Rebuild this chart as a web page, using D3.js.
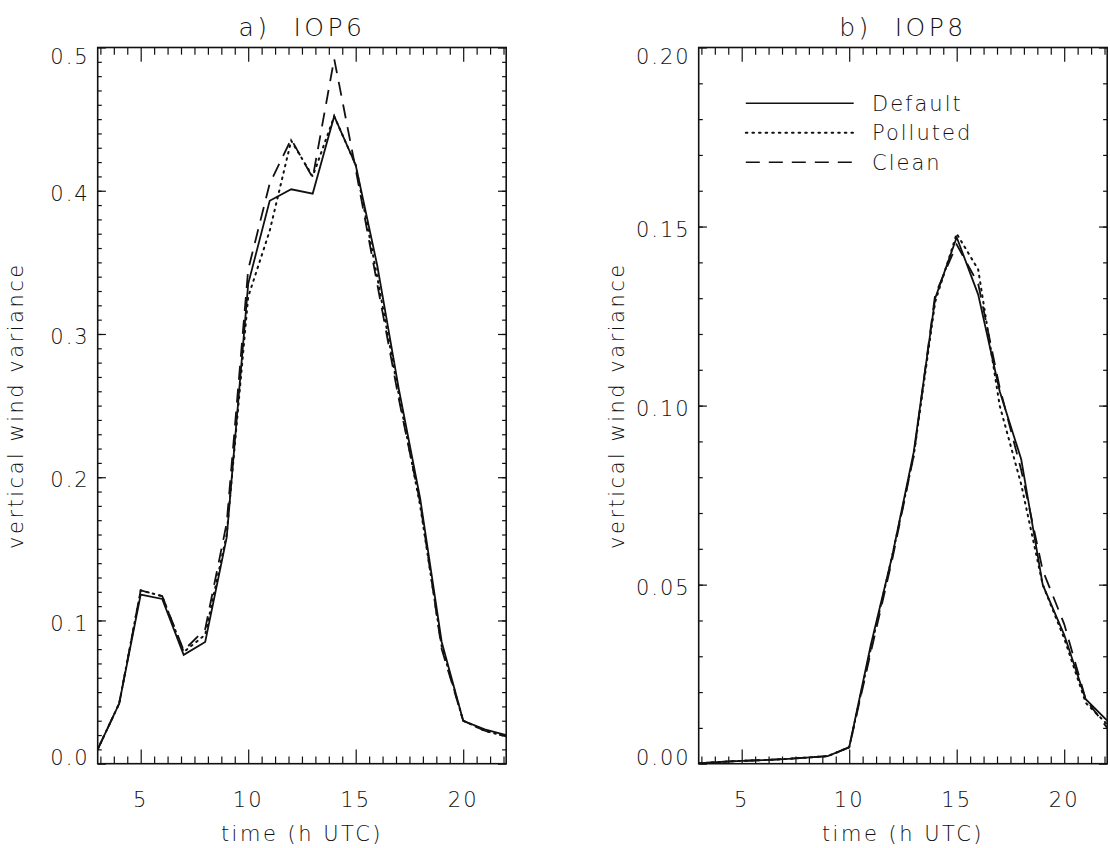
<!DOCTYPE html>
<html><head><meta charset="utf-8">
<script src="https://cdn.jsdelivr.net/npm/d3@7"></script>
<style>
body{margin:0;background:#fff;}
text{font-family:"DejaVu Sans",sans-serif;font-weight:200;fill:#111;}
</style></head>
<body><svg id="c" width="1110" height="848"></svg>
<script>
const hours = [3,4,5,6,7,8,9,10,11,12,13,14,15,16,17,18,19,20,21,22];
const iop6Default  = [0.010,0.042,0.118,0.115,0.076,0.085,0.158,0.335,0.393,0.401,0.398,0.452,0.418,0.348,0.262,0.185,0.085,0.030,0.024,0.020];
const iop6Polluted = [0.010,0.042,0.121,0.117,0.078,0.090,0.160,0.326,0.372,0.435,0.410,0.452,0.418,0.340,0.258,0.180,0.082,0.030,0.023,0.019];
const iop6Clean    = [0.010,0.042,0.121,0.117,0.079,0.094,0.168,0.345,0.405,0.436,0.409,0.492,0.415,0.335,0.255,0.182,0.080,0.030,0.023,0.019];
const iop8Default  = [0.0001,0.0005,0.0008,0.0010,0.0013,0.0017,0.0021,0.0046,0.033,0.058,0.087,0.130,0.147,0.131,0.104,0.085,0.050,0.036,0.018,0.012];
const iop8Polluted = [0.0001,0.0005,0.0008,0.0010,0.0013,0.0017,0.0021,0.0046,0.032,0.058,0.086,0.129,0.148,0.138,0.100,0.078,0.050,0.035,0.017,0.011];
const iop8Clean    = [0.0001,0.0005,0.0008,0.0010,0.0013,0.0017,0.0021,0.0046,0.031,0.057,0.086,0.131,0.145,0.134,0.105,0.082,0.054,0.039,0.018,0.010];
const seriesNames = ["Default","Polluted","Clean"];
const xMajorTicks = [5,10,15,20];
const panelTitles = ["a) IOP6","b) IOP8"];
const yTickLabels6 = ["0.0","0.1","0.2","0.3","0.4","0.5"];
const yTickLabels8 = ["0.00","0.05","0.10","0.15","0.20"];

const dashes = {Default:null, Polluted:"1.6,5", Clean:"14,9"};
const svg = d3.select("#c");
const yTop = 47.5, yBot = 763.7;

const panels = [
  {x0:97.7, x1:506.2, title:panelTitles[0], ymax:0.5, labels:yTickLabels6,
   data:{Default:iop6Default, Polluted:iop6Polluted, Clean:iop6Clean}},
  {x0:698.7, x1:1107.2, title:panelTitles[1], ymax:0.2, labels:yTickLabels8,
   data:{Default:iop8Default, Polluted:iop8Polluted, Clean:iop8Clean}}
];

panels.forEach((p,pi)=>{
  const x = d3.scaleLinear().domain([3,22]).range([p.x0,p.x1]);
  const y = d3.scaleLinear().domain([0,p.ymax]).range([yBot,yTop]);
  const g = svg.append("g");
  const xMinor = d3.range(-3,28).map(k=>5+k*0.625).filter(v=>v>3&&v<22&&!xMajorTicks.includes(v));
  const yMaj = p.labels.map(Number);
  const yMinor = d3.range(0, p.ymax/0.01+0.5).map(k=>k*0.01).filter(v=>v>0.0001&&v<p.ymax-0.0001);

  const tk = (axis,vals,len)=>{ const a=g.append("g"); a.call(axis.tickValues(vals).tickSize(len).tickFormat("")); a.select(".domain").remove(); a.selectAll("line").attr("stroke","#111").attr("stroke-width",1.2); return a;};
  tk(d3.axisBottom(x),xMajorTicks,-14.3).attr("transform",`translate(0,${yBot})`);
  tk(d3.axisBottom(x),xMinor,-7.2).attr("transform",`translate(0,${yBot})`);
  tk(d3.axisTop(x),xMajorTicks,-14.3).attr("transform",`translate(0,${yTop})`);
  tk(d3.axisTop(x),xMinor,-7.2).attr("transform",`translate(0,${yTop})`);
  tk(d3.axisLeft(y),yMaj,-8.2).attr("transform",`translate(${p.x0},0)`);
  tk(d3.axisLeft(y),yMinor,-4.1).attr("transform",`translate(${p.x0},0)`);
  tk(d3.axisRight(y),yMaj,-8.2).attr("transform",`translate(${p.x1},0)`);
  tk(d3.axisRight(y),yMinor,-4.1).attr("transform",`translate(${p.x1},0)`);

  g.append("rect").attr("x",p.x0).attr("y",yTop).attr("width",p.x1-p.x0).attr("height",yBot-yTop)
    .attr("fill","none").attr("stroke","#111").attr("stroke-width",1.6);

  xMajorTicks.forEach(v=>{
    g.append("text").attr("x",x(v)).attr("y",yBot+43.5).attr("text-anchor","middle")
      .attr("font-size",21).attr("letter-spacing",2).text(v);
  });
  p.labels.forEach((s,i)=>{
    const v=+s; let off = 2.5;
    if(i===0) off=-6.5; if(i===p.labels.length-1) off=9;
    g.append("text").attr("x",p.x0-8).attr("y",y(v)+off).attr("dy","0.36em").attr("text-anchor","end")
      .attr("font-size",21).attr("letter-spacing",2).text(s);
  });
  g.append("text").attr("x",(p.x0+p.x1)/2).attr("y",841).attr("text-anchor","middle")
    .attr("font-size",21).attr("letter-spacing",2.5).text("time (h UTC)");
  g.append("text").attr("transform",`translate(${p.x0-75},${(yTop+yBot)/2}) rotate(-90)`).attr("text-anchor","middle")
    .attr("font-size",21).attr("letter-spacing",2.5).text("vertical wind variance");
  g.append("text").attr("x",(p.x0+p.x1)/2).attr("y",35.5).attr("text-anchor","middle")
    .attr("font-size",25).attr("letter-spacing",3.5).attr("xml:space","preserve").text(p.title.replace(" ","  "));

  const clipId="clip"+pi;
  svg.append("clipPath").attr("id",clipId).append("rect").attr("x",p.x0).attr("y",yTop).attr("width",p.x1-p.x0).attr("height",yBot-yTop);
  const line = d3.line().x((d,i)=>x(hours[i])).y(d=>y(d));
  seriesNames.forEach(n=>{
    g.append("path").attr("d",line(p.data[n])).attr("fill","none").attr("stroke","#111")
      .attr("stroke-width",n==="Polluted"?2:1.8).attr("stroke-dasharray",dashes[n])
      .attr("stroke-linecap",n==="Polluted"?"round":"butt")
      .attr("clip-path",`url(#${clipId})`);
  });

  if(pi===1){
    seriesNames.forEach((n,i)=>{
      const ly = 103.3 + i*29.5;
      g.append("line").attr("x1",745.8).attr("x2",853.7).attr("y1",ly).attr("y2",ly)
        .attr("stroke","#111").attr("stroke-width",n==="Polluted"?2:1.6).attr("stroke-dasharray",dashes[n])
        .attr("stroke-linecap",n==="Polluted"?"round":"butt");
      g.append("text").attr("x",872).attr("y",ly).attr("dy","0.36em").attr("font-size",21).attr("letter-spacing",2).text(n);
    });
  }
});
</script></body></html>
